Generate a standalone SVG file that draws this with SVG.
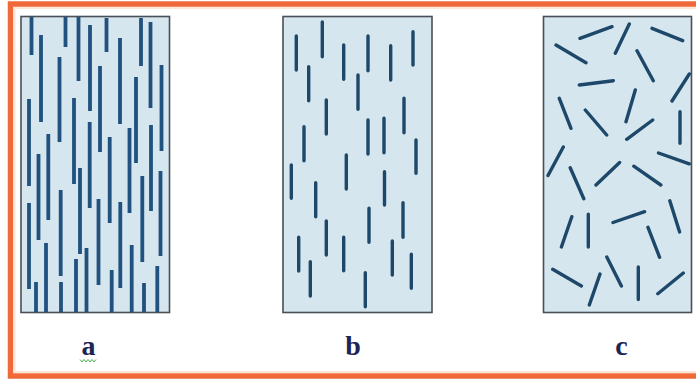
<svg xmlns="http://www.w3.org/2000/svg" width="696" height="379" viewBox="0 0 696 379">
<style>
.frame{fill:#ffffff;stroke:#F0693B;stroke-width:5.5}
.glow{fill:none;stroke:#FCE6D8;stroke-width:2}
.panel{fill:#D5E6EF;stroke:#4a4f55;stroke-width:1.6}
.fib{fill:none;stroke:#21517E;stroke-width:3.8;stroke-linecap:butt}
.fib2{fill:none;stroke:#1E4869;stroke-width:3.4;stroke-linecap:round}
.lbl{font-family:"Liberation Serif","Times New Roman",serif;font-weight:bold;font-size:28px;fill:#1C2556;text-anchor:middle}
</style>
<rect class="frame" x="10.5" y="4" width="700" height="372"/>
<rect class="glow" x="14.5" y="8" width="690" height="364"/>
<g id="connectors"/>
<g id="panel-a">
<rect class="panel" x="21" y="16.5" width="148.5" height="296"/>
<path class="fib" d="M31.5 17V55M41 35V122M65.5 17V47M78.5 17V81M90 25V111M106.5 18V52M120 38V124M141 18V66M150.5 22V108M161.5 65V151M59.5 57V142M100 66V152M136 77V163M29 99V186M74 98V184M48.3 134V220M89.7 122V208M109.7 137V223M129.5 128V213M151 125V211M38.5 154V240M80 168V254M160.5 171V256M60.7 190V276M98.5 199V285M120.3 202V288M142.3 176V262M29 203V289M46 243V312M86.5 248V312M76 259V312M131.7 245V312M157.3 266V312M36 282V312M61 282V312M111.7 270V312M144 283V312"/>
<text class="lbl" x="88.5" y="355">a</text>
<path d="M80 359.5l2 2.5 2-2.5 2 2.5 2-2.5 2 2.5 2-2.5 2 2.5 2-2.5" fill="none" stroke="#4CAF50" stroke-width="1"/>
</g>
<g id="panel-b">
<rect class="panel" x="283" y="16.5" width="149" height="296"/>
<path class="fib2" d="M296.3 36V70M322.3 22V56.7M343.7 45V79.3M368 36V70.7M390.7 45.7V80M413 31.7V65M308.7 66.7V100.7M358 75V109.3M326.3 100V134M404 98.3V132.7M304 126.7V160.7M368 120V154M384 118.3V152.7M416 140V173.3M346.3 155V189M291.3 165V198.3M384.5 171.7V205M315.7 182.7V216.7M403 202.7V237.3M369 208.3V242.3M326.3 221V255M298.7 237.3V271M343.7 237.3V270.7M392.3 241V275M411.3 254.3V288.3M310.3 261.7V296M365.3 272.7V306.7"/>
<text class="lbl" x="353" y="355">b</text>
</g>
<g id="panel-c">
<rect class="panel" x="543.5" y="16.5" width="148" height="296"/>
<path class="fib2" d="M580 38.3L612 26.7M615.3 53.3L629.3 24M652 28.3L682.7 40.7M556 45L586 62.7M637 50.7L653.3 80.7M579.3 85L613.3 80.7M672 101L689.3 74M559.3 98.3L571 128.3M585.3 110L606.7 135M626 121.7L635.3 90M626.7 139.3L652.7 120M680 111.7V143.3M658.5 153L689.3 163.8M563.3 147L548 175.5M570.2 167.8L583.8 198.7M596 185L619.6 162.5M633.8 166.2L660.8 185M669.8 200.8L679.6 232M561.4 247L571.8 216.7M588.3 214.2V247M613 222.5L644.6 211.7M648 227.3L659.6 257.3M552.7 269.3L581.4 286M589.3 305L600 274M606.8 257L621.4 286M638.3 267V299.5M657.8 293.7L683.3 273"/>
<text class="lbl" x="621.5" y="355">c</text>
</g>
</svg>
